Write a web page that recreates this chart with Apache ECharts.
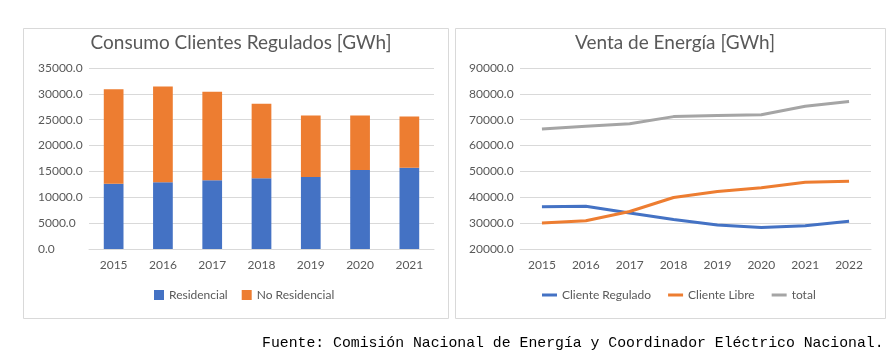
<!DOCTYPE html>
<html>
<head>
<meta charset="utf-8">
<script src="https://cdn.jsdelivr.net/npm/echarts@6/dist/echarts.min.js"></script>
<style>
html,body{margin:0;padding:0;background:#fff;}
#c{width:887px;height:358px;}
</style>
</head>
<body>
<div id="c"></div>
<script>
const barYears = ['2015','2016','2017','2018','2019','2020','2021'];
const residencial = [12600, 12900, 13300, 13700, 13900, 15300, 15700];
const noResidencial = [18300, 18500, 17100, 14400, 11900, 10500, 9900];

const lineYears = ['2015','2016','2017','2018','2019','2020','2021','2022'];
const clienteRegulado = [36300, 36500, 33900, 31400, 29300, 28300, 29000, 30700];
const clienteLibre = [30100, 30900, 34500, 39900, 42200, 43700, 45800, 46200];
const total = [66400, 67500, 68400, 71200, 71600, 71900, 75200, 77000];

const FONT = 'Lato, "Open Sans", sans-serif';
const TXT = '#595959';
const GRID = '#d9d9d9';

const chart = echarts.init(document.getElementById('c'), null, {renderer:'canvas'});
const fmt = v => v.toFixed(1);

chart.setOption({
  animation: false,
  backgroundColor: '#fff',
  textStyle: {fontFamily: FONT},
  title: [
    {text: 'Consumo Clientes Regulados [GWh]', left: 236, top: 28, textAlign: 'center',
     textStyle: {fontFamily: FONT, fontSize: 19, fontWeight: 'normal', color: TXT}},
    {text: 'Venta de Energía [GWh]', left: 670, top: 28, textAlign: 'center',
     textStyle: {fontFamily: FONT, fontSize: 19, fontWeight: 'normal', color: TXT}}
  ],
  graphic: [
    {type: 'rect', shape: {x: 23.5, y: 28.5, width: 425, height: 290}, style: {fill: 'none', stroke: GRID, lineWidth: 1}, silent: true, z: -1},
    {type: 'rect', shape: {x: 455.5, y: 28.5, width: 430, height: 290}, style: {fill: 'none', stroke: GRID, lineWidth: 1}, silent: true, z: -1},
    {type: 'text', left: 262, top: 336,
     style: {text: 'Fuente: Comisión Nacional de Energía y Coordinador Eléctrico Nacional.',
             font: '14.8px "Liberation Mono", "DejaVu Sans Mono", monospace', fill: '#000'}}
  ],
  legend: [
    {data: ['Residencial', 'No Residencial'], left: 149, top: 284, itemWidth: 10, itemHeight: 10, itemGap: 14,
     icon: 'rect', textStyle: {fontFamily: FONT, fontSize: 12, color: TXT}},
    {data: ['Cliente Regulado', 'Cliente Libre', 'total'], left: 537, top: 284, itemWidth: 15, itemHeight: 3, itemGap: 17,
     icon: 'rect', textStyle: {fontFamily: FONT, fontSize: 12, color: TXT}}
  ],
  grid: [
    {left: 89, top: 68, width: 345, height: 181},
    {left: 520, top: 68, width: 351, height: 181}
  ],
  xAxis: [
    {type: 'category', gridIndex: 0, data: barYears, boundaryGap: true,
     axisLine: {lineStyle: {color: GRID}}, axisTick: {show: false},
     axisLabel: {color: TXT, fontSize: 12, fontFamily: FONT, margin: 10}},
    {type: 'category', gridIndex: 1, data: lineYears, boundaryGap: true,
     axisLine: {lineStyle: {color: GRID}}, axisTick: {show: false},
     axisLabel: {color: TXT, fontSize: 12, fontFamily: FONT, margin: 10}}
  ],
  yAxis: [
    {type: 'value', gridIndex: 0, min: 0, max: 35000, interval: 5000,
     axisLine: {show: false}, axisTick: {show: false},
     splitLine: {lineStyle: {color: GRID}},
     axisLabel: {color: TXT, fontSize: 12, fontFamily: FONT, align: 'left', margin: 51, formatter: fmt}},
    {type: 'value', gridIndex: 1, min: 20000, max: 90000, interval: 10000,
     axisLine: {show: false}, axisTick: {show: false},
     splitLine: {lineStyle: {color: GRID}},
     axisLabel: {color: TXT, fontSize: 12, fontFamily: FONT, align: 'left', margin: 51, formatter: fmt}}
  ],
  series: [
    {name: 'Residencial', type: 'bar', stack: 'a', xAxisIndex: 0, yAxisIndex: 0, data: residencial,
     barWidth: '40%', itemStyle: {color: '#4472C4'}},
    {name: 'No Residencial', type: 'bar', stack: 'a', xAxisIndex: 0, yAxisIndex: 0, data: noResidencial,
     barWidth: '40%', itemStyle: {color: '#ED7D31'}},
    {name: 'Cliente Regulado', type: 'line', xAxisIndex: 1, yAxisIndex: 1, data: clienteRegulado,
     showSymbol: false, symbol: 'none', lineStyle: {color: '#4472C4', width: 3}, itemStyle: {color: '#4472C4'}},
    {name: 'Cliente Libre', type: 'line', xAxisIndex: 1, yAxisIndex: 1, data: clienteLibre,
     showSymbol: false, symbol: 'none', lineStyle: {color: '#ED7D31', width: 3}, itemStyle: {color: '#ED7D31'}},
    {name: 'total', type: 'line', xAxisIndex: 1, yAxisIndex: 1, data: total,
     showSymbol: false, symbol: 'none', lineStyle: {color: '#A5A5A5', width: 3}, itemStyle: {color: '#A5A5A5'}}
  ]
});
</script>
</body>
</html>
